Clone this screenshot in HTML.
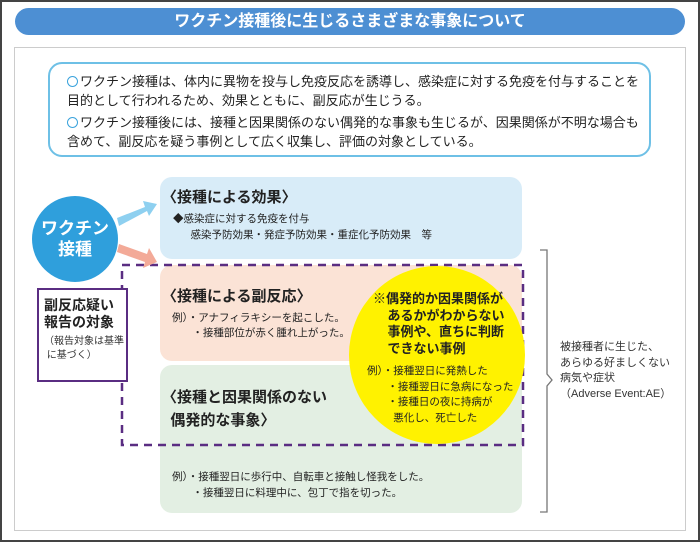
<!DOCTYPE html>
<html><head><meta charset="utf-8"><style>
*{margin:0;padding:0;box-sizing:border-box}
body{width:700px;height:542px;position:relative;background:#fff;font-family:"Liberation Sans","Noto Sans CJK JP",sans-serif;color:#222;overflow:hidden}
.a{position:absolute}
.o{display:inline-block;width:11px;height:11px;border:1.8px solid #3aa3dc;border-radius:50%;margin-right:2px;vertical-align:-1px}
</style></head><body>
<div class="a" style="left:0;top:0;width:700px;height:542px;border:2px solid #444"></div>
<div class="a" style="left:15px;top:8px;width:670px;height:27px;border-radius:14px;background:#4d8fd3;color:#fff;font-size:16px;font-weight:bold;text-align:center;line-height:27px">ワクチン接種後に生じるさまざまな事象について</div>
<div class="a" style="left:14px;top:47px;width:672px;height:484px;border:1.5px solid #ccc"></div>
<div class="a" style="left:48px;top:62px;width:603px;height:95px;border:2px solid #6ec0e6;border-radius:14px;font-size:13px;line-height:19px;padding:8px 0 0 17px">
<div><span class="o"></span>ワクチン接種は、体内に異物を投与し免疫反応を誘導し、感染症に対する免疫を付与することを<br>目的として行われるため、効果とともに、副反応が生じうる。</div>
<div style="margin-top:3px"><span class="o"></span>ワクチン接種後には、接種と因果関係のない偶発的な事象も生じるが、因果関係が不明な場合も<br>含めて、副反応を疑う事例として広く収集し、評価の対象としている。</div></div>
<div class="a" style="left:160px;top:177px;width:362px;height:82px;background:#d8ecf8;border-radius:12px"></div>
<div class="a" style="left:160px;top:265px;width:362px;height:96px;background:#fbe3d6;border-radius:12px"></div>
<div class="a" style="left:160px;top:365px;width:362px;height:148px;background:#e3efe3;border-radius:12px"></div>
<svg class="a" style="left:0;top:0" width="700" height="542">
<rect x="122" y="265" width="401" height="180" fill="none" stroke="#5a2d82" stroke-width="2.5" stroke-dasharray="8,6"/>
<ellipse cx="437" cy="355" rx="88" ry="89" fill="#fff200"/>
<polygon points="117,218 145,207 143,201 157,204 149,216 147,211 119,226" fill="#8ed0f0"/>
<polygon points="117,252 119,244 147,254 149,248 157,262 143,268 145,262" fill="#f3aa98"/>
<path d="M540,250 h7 v124 l5,6 l-5,6 v126 h-7" fill="none" stroke="#777" stroke-width="1.3"/>
</svg>
<div class="a" style="left:32px;top:196px;width:86px;height:86px;border-radius:50%;background:#2f9fdc;color:#fff;font-weight:bold;font-size:17px;line-height:21px;text-align:center;padding-top:22px">ワクチン<br>接種</div>
<div class="a" style="left:37px;top:288px;width:91px;height:94px;border:2px solid #5a2d82;background:#fff;padding:7px 0 0 5px">
<div style="font-weight:bold;font-size:14px;line-height:17px">副反応疑い<br>報告の対象</div>
<div style="font-size:10px;line-height:14px;margin-top:4px;color:#333">（報告対象は基準<br>&nbsp;に基づく）</div></div>
<div class="a" style="left:162px;top:186px;font-weight:bold;font-size:15px">〈接種による効果〉</div>
<div class="a" style="left:173px;top:211px;font-size:10.5px;line-height:16px">◆感染症に対する免疫を付与<br>&nbsp;&nbsp;&nbsp;&nbsp;&nbsp;&nbsp;感染予防効果・発症予防効果・重症化予防効果　等</div>
<div class="a" style="left:162px;top:285px;font-weight:bold;font-size:15px">〈接種による副反応〉</div>
<div class="a" style="left:172px;top:311px;font-size:10.5px;line-height:15px">例）・アナフィラキシーを起こした。<br>&nbsp;&nbsp;&nbsp;&nbsp;&nbsp;&nbsp;&nbsp;・接種部位が赤く腫れ上がった。</div>
<div class="a" style="left:162px;top:386px;font-weight:bold;font-size:15px;line-height:23px">〈接種と因果関係のない<br>&nbsp;&nbsp;偶発的な事象〉</div>
<div class="a" style="left:172px;top:469px;font-size:10.5px;line-height:16px">例）・接種翌日に歩行中、自転車と接触し怪我をした。<br>&nbsp;&nbsp;&nbsp;&nbsp;&nbsp;&nbsp;&nbsp;・接種翌日に料理中に、包丁で指を切った。</div>
<div class="a" style="left:373px;top:291px;font-weight:bold;font-size:13px;line-height:16.5px">※偶発的か因果関係が<br>&nbsp;&nbsp;&nbsp;&nbsp;あるかがわからない<br>&nbsp;&nbsp;&nbsp;&nbsp;事例や、直ちに判断<br>&nbsp;&nbsp;&nbsp;&nbsp;できない事例</div>
<div class="a" style="left:367px;top:364px;font-size:10.5px;line-height:15.5px">例）・接種翌日に発熱した<br>&nbsp;&nbsp;&nbsp;&nbsp;&nbsp;&nbsp;&nbsp;・接種翌日に急病になった<br>&nbsp;&nbsp;&nbsp;&nbsp;&nbsp;&nbsp;&nbsp;・接種日の夜に持病が<br>&nbsp;&nbsp;&nbsp;&nbsp;&nbsp;&nbsp;&nbsp;&nbsp;&nbsp;悪化し、死亡した</div>
<div class="a" style="left:560px;top:340px;font-size:11px;line-height:15.5px;color:#333">被接種者に生じた、<br>あらゆる好ましくない<br>病気や症状<br>（Adverse Event:AE）</div>
</body></html>
